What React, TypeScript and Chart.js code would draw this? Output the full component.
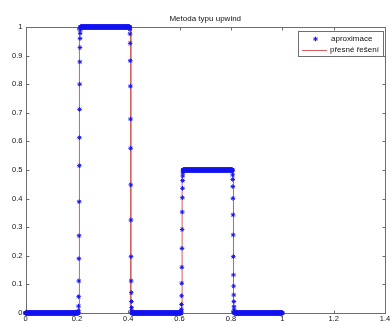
import { useEffect, useRef } from "react";
import { Chart, registerables } from "chart.js";

Chart.register(...registerables);

// Uniform spatial grid of the numerical solution
const gridStep = 0.0005;
const gridEnd = 1;

// Positions of the exact jumps and the levels between them
const jumpPositions = [0.21, 0.41, 0.61, 0.81];
const plateauLevels = [0, 1, 0, 0.5, 0];

// Smeared values of the upwind solution across each jump
const riseToOne = [0.003, 0.008, 0.024, 0.057, 0.112, 0.19, 0.27, 0.389, 0.515, 0.613, 0.712, 0.8, 0.878, 0.928, 0.96, 0.978, 0.99, 0.996];
const fallFromOne = [0.997, 0.992, 0.976, 0.943, 0.882, 0.793, 0.678, 0.576, 0.448, 0.325, 0.197, 0.112, 0.071, 0.04, 0.019, 0.008, 0.003];
const riseToHalf = [0.002, 0.006, 0.013, 0.03, 0.06, 0.104, 0.16, 0.226, 0.292, 0.353, 0.403, 0.436, 0.463, 0.479, 0.49, 0.497];
const fallFromHalf = [0.497, 0.483, 0.467, 0.442, 0.401, 0.343, 0.273, 0.197, 0.133, 0.094, 0.063, 0.04, 0.022, 0.011, 0.005, 0.002];

// Exact solution (step profile)
const exactX = [0, 0.21, 0.21, 0.41, 0.41, 0.61, 0.61, 0.81, 0.81, 1];
const exactY = [0, 0, 1, 1, 0, 0, 0.5, 0.5, 0, 0];

const xTicks = [0, 0.2, 0.4, 0.6, 0.8, 1, 1.2, 1.4];
const xTickLabels = ["0", "0.2", "0.4", "0.6", "0.8", "1", "1.2", "1.4"];
const yTicks = [0, 0.1, 0.2, 0.3, 0.4, 0.5, 0.6, 0.7, 0.8, 0.9, 1];
const yTickLabels = ["0", "0.1", "0.2", "0.3", "0.4", "0.5", "0.6", "0.7", "0.8", "0.9", "1"];

const chartTitle = "Metoda typu upwind";
const seriesNames = ["aproximace", "přesné řešení"];

const APPROX_COLOR = "rgb(20,20,240)";
const EXACT_COLOR = "rgb(212,95,95)";
const FRAME_COLOR = "#6e6e6e";
const TEXT_COLOR = "#111";
const FONT = "Liberation Sans, Arial, sans-serif";

function buildApproximation() {
  const transitions = [riseToOne, fallFromOne, riseToHalf, fallFromHalf];
  const count = Math.round(gridEnd / gridStep);
  const spans = transitions.map((vals, k) => ({
    start: Math.round(jumpPositions[k] / gridStep) - Math.floor(vals.length / 2),
    vals,
  }));
  const pts: { x: number; y: number }[] = [];
  for (let i = 0; i <= count; i++) {
    let seg = 0;
    let y: number | null = null;
    spans.forEach((s, k) => {
      if (i >= s.start + s.vals.length) seg = k + 1;
      else if (i >= s.start) y = s.vals[i - s.start];
    });
    pts.push({ x: i * gridStep, y: y === null ? plateauLevels[seg] : y });
  }
  return pts;
}

function drawStar(ctx: CanvasRenderingContext2D, x: number, y: number, r: number) {
  const d = r * Math.SQRT1_2;
  ctx.beginPath();
  ctx.moveTo(x - r, y); ctx.lineTo(x + r, y);
  ctx.moveTo(x, y - r); ctx.lineTo(x, y + r);
  ctx.moveTo(x - d, y - d); ctx.lineTo(x + d, y + d);
  ctx.moveTo(x - d, y + d); ctx.lineTo(x + d, y - d);
  ctx.stroke();
}

const framePlugin = {
  id: "matlabFrame",
  beforeDatasetsDraw(chart: any) {
    const { ctx, chartArea: a, scales } = chart;
    const L = Math.round(a.left) + 0.5;
    const R = Math.round(a.right) + 0.5;
    const T = Math.round(a.top) + 0.5;
    const B = Math.round(a.bottom) + 0.5;
    ctx.save();
    ctx.strokeStyle = FRAME_COLOR;
    ctx.lineWidth = 1;
    ctx.strokeRect(L, T, R - L, B - T);
    const len = 3;
    ctx.beginPath();
    xTicks.forEach((v) => {
      const px = Math.round(scales.x.getPixelForValue(v)) + 0.5;
      ctx.moveTo(px, B); ctx.lineTo(px, B - len);
      ctx.moveTo(px, T); ctx.lineTo(px, T + len);
    });
    yTicks.forEach((v) => {
      const py = Math.round(scales.y.getPixelForValue(v)) + 0.5;
      ctx.moveTo(L, py); ctx.lineTo(L + len, py);
      ctx.moveTo(R, py); ctx.lineTo(R - len, py);
    });
    ctx.stroke();
    ctx.restore();
  },
  afterDraw(chart: any) {
    const { ctx, chartArea: a } = chart;
    ctx.save();
    // title
    ctx.fillStyle = TEXT_COLOR;
    ctx.font = `8px ${FONT}`;
    ctx.textAlign = "center";
    ctx.textBaseline = "middle";
    ctx.fillText(chartTitle, (a.left + a.right) / 2, 18.5);

    // legend box
    const bx = 298.5, by = 31.5, bw = 85, bh = 25;
    ctx.fillStyle = "#fff";
    ctx.fillRect(bx, by, bw, bh);
    ctx.strokeStyle = FRAME_COLOR;
    ctx.lineWidth = 1;
    ctx.strokeRect(bx, by, bw, bh);

    ctx.strokeStyle = APPROX_COLOR;
    drawStar(ctx, 315.5, 39, 2.3);
    ctx.strokeStyle = EXACT_COLOR;
    ctx.beginPath();
    ctx.moveTo(302, 50.5);
    ctx.lineTo(327, 50.5);
    ctx.stroke();

    ctx.fillStyle = TEXT_COLOR;
    ctx.textAlign = "left";
    ctx.textBaseline = "middle";
    ctx.font = `8px ${FONT}`;
    ctx.fillText(seriesNames[0], 331, 39);
    ctx.fillText(seriesNames[1], 330, 50);
    ctx.restore();
  },
};

export default function App() {
  const canvasRef = useRef<HTMLCanvasElement>(null);

  useEffect(() => {
    if (!canvasRef.current) return;
    const approx = buildApproximation();
    const exact = exactX.map((x, i) => ({ x, y: exactY[i] }));

    const fixScale = (size: "width" | "height", value: number) => (scale: any) => {
      scale[size] = value;
      scale.paddingLeft = 0;
      scale.paddingRight = 0;
      scale.paddingTop = 0;
      scale.paddingBottom = 0;
    };

    const chart = new Chart(canvasRef.current, {
      type: "scatter",
      data: {
        datasets: [
          {
            label: seriesNames[0],
            data: approx,
            showLine: false,
            pointStyle: "star",
            pointRadius: 2.3,
            pointBorderWidth: 1,
            borderColor: APPROX_COLOR,
            backgroundColor: APPROX_COLOR,
            clip: false,
            order: 0,
          },
          {
            label: seriesNames[1],
            data: exact,
            showLine: true,
            pointRadius: 0,
            borderColor: EXACT_COLOR,
            borderWidth: 1,
            clip: false,
            order: 1,
          },
        ],
      },
      options: {
        responsive: false,
        animation: false,
        events: [],
        layout: { padding: { top: 27, right: 3, left: 0, bottom: 0 } },
        plugins: {
          legend: { display: false },
          title: { display: false },
          tooltip: { enabled: false },
        },
        scales: {
          x: {
            type: "linear",
            min: 0,
            max: 1.4,
            grid: { display: false, drawTicks: false },
            border: { display: false },
            afterBuildTicks: (scale: any) => {
              scale.ticks = xTicks.map((value) => ({ value }));
            },
            afterFit: fixScale("height", 12),
            ticks: {
              autoSkip: false,
              maxRotation: 0,
              minRotation: 0,
              padding: 1,
              color: TEXT_COLOR,
              font: { family: FONT, size: 7.5 },
              callback: (v: any) => xTickLabels[xTicks.indexOf(Number(v))] ?? "",
            },
          },
          y: {
            type: "linear",
            min: 0,
            max: 1,
            grid: { display: false, drawTicks: false },
            border: { display: false },
            afterBuildTicks: (scale: any) => {
              scale.ticks = yTicks.map((value) => ({ value }));
            },
            afterFit: fixScale("width", 25.5),
            ticks: {
              autoSkip: false,
              padding: 3,
              color: TEXT_COLOR,
              font: { family: FONT, size: 7.5 },
              callback: (v: any) => yTickLabels[yTicks.indexOf(Number(v))] ?? "",
            },
          },
        },
      },
      plugins: [framePlugin],
    });
    return () => chart.destroy();
  }, []);

  return (
    <div style={{ position: "absolute", left: 0, top: 0, width: 390, height: 325, background: "#fff" }}>
      <canvas ref={canvasRef} width={390} height={325} />
    </div>
  );
}
